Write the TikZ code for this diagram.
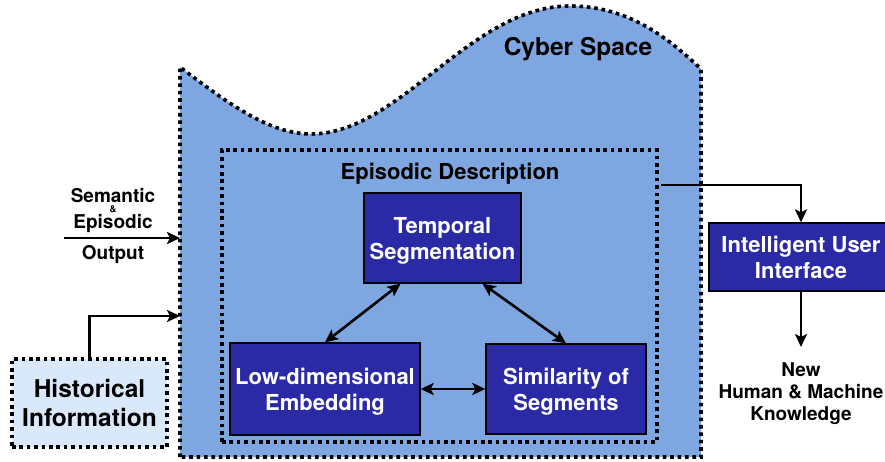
\documentclass[tikz,border=0pt]{standalone}
\usepackage{fontspec}
\setmainfont{TeX Gyre Heros}
\usetikzlibrary{arrows.meta}
\definecolor{cyberfill}{HTML}{7EA6E0}
\definecolor{boxblue}{HTML}{2A2AA6}
\definecolor{histfill}{HTML}{DAE8FC}
\tikzset{
 dotborder/.style={draw=black, line width=3.6pt, dash pattern=on 3.6pt off 3.8pt},
 bluebox/.style={draw=black, line width=1.3pt, fill=boxblue, text=white, font=\bfseries\fontsize{22}{26}\selectfont, align=center, inner sep=0pt},
 nodepth/.style={text depth=0pt},
 conn/.style={line width=2.6pt, -{Stealth[length=13pt,width=12pt,inset=3pt]}},
 biconn/.style={line width=2.6pt, {Stealth[length=13pt,width=12pt,inset=3pt]}-{Stealth[length=13pt,width=12pt,inset=3pt]}},
 lbl/.style={font=\bfseries\fontsize{19}{22}\selectfont, inner sep=0pt},
 title/.style={font=\bfseries\fontsize{22}{26}\selectfont, inner sep=0pt, anchor=base},
}
\begin{document}
\begin{tikzpicture}[x=1pt,y=-1pt]
\useasboundingbox (0,0) rectangle (885,462);
% cyber space
\draw[dotborder, fill=cyberfill] (180,457) -- (180,67)
  .. controls (230,105) and (270,134) .. (311,134)
  .. controls (400,134) and (470,6) .. (570,6)
  .. controls (630,6) and (670,40) .. (701,69) -- (701,457) -- cycle;
\node[font=\bfseries\fontsize{24.5}{29}\selectfont, anchor=base, inner sep=0pt] (cyber) at (578,56) {Cyber Space};
% episodic description
\node[dotborder, minimum width=435pt, minimum height=292pt, inner sep=0pt] (episodic) at (439.5,296) {};
\node[title] (eptitle) at (450,180) {Episodic Description};
% inner boxes
\node[bluebox, nodepth, minimum width=157pt, minimum height=90pt] (temporal) at (442.5,238) {Temporal\\Segmentation};
\node[bluebox, nodepth, minimum width=190pt, minimum height=92pt] (lowdim) at (325,389) {Low-dimensional\\Embedding};
\node[bluebox, nodepth, minimum width=160pt, minimum height=90pt] (simil) at (566,389) {Similarity of\\Segments};
\draw[biconn] ([xshift=-42pt]temporal.south) -- (lowdim.north);
\draw[biconn] ([xshift=40pt]temporal.south) -- (simil.north);
\draw[biconn] (lowdim.east) -- (simil.west);
% historical
\node[dotborder, fill=histfill, minimum width=155pt, minimum height=88pt, align=center, font=\bfseries\fontsize{24.5}{29}\selectfont, inner sep=0pt] (hist) at (89.5,403) {Historical\\Information};
\coordinate (histend) at (180,316);
\draw[conn] (hist.north) |- (histend);
% semantic input
\coordinate (semstart) at (64,238);
\coordinate (semend) at (180,238);
\draw[conn] (semstart) -- (semend);
\node[lbl, anchor=base] (sem) at (113,203) {Semantic};
\node[font=\bfseries\fontsize{9.5}{11}\selectfont, inner sep=0pt, anchor=base] (amp) at (113,213) {\&};
\node[lbl, anchor=base] (epi) at (113,229) {Episodic};
\node[lbl, anchor=base] (outp) at (113,259) {Output};
% intelligent user interface
\node[bluebox, minimum width=184pt, minimum height=68pt] (iui) at (801,257) {Intelligent User\\Interface};
\coordinate (epout) at (661,185);
\draw[conn] (epout) -| (iui.north);
\coordinate (outtip) at (801,347);
\draw[conn] (iui.south) -- (outtip);
\node[lbl, align=center, anchor=north] (newk) at (801,362) {New\\Human \& Machine\\Knowledge};
\end{tikzpicture}
\end{document}
